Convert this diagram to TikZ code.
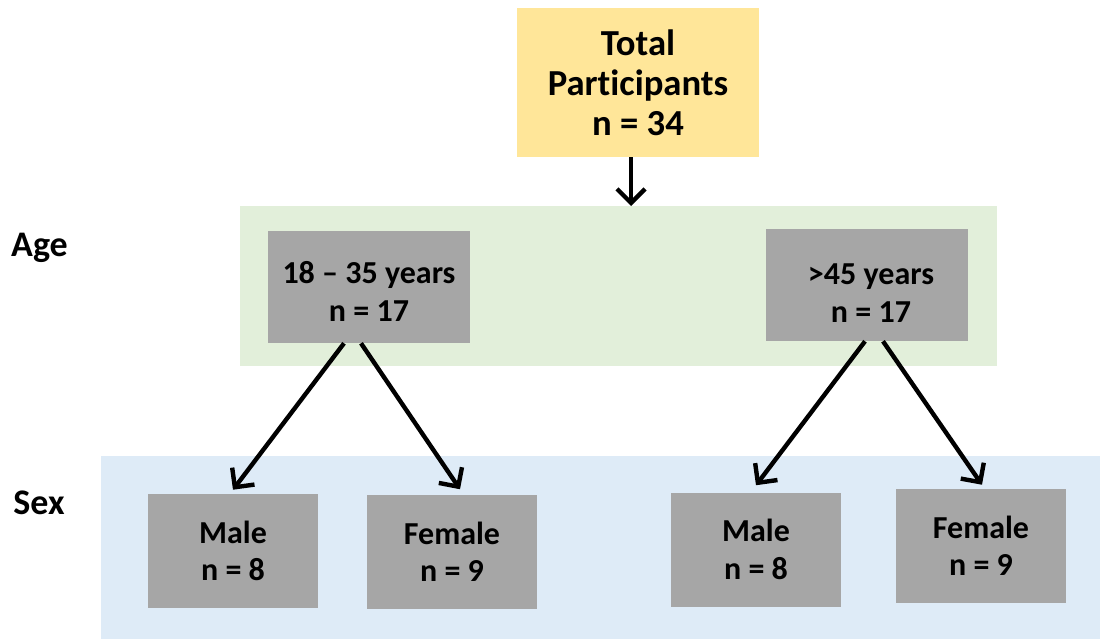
\documentclass[tikz,border=0pt]{standalone}
\usepackage{fontspec}
\setmainfont[Ligatures=NoCommon]{Carlito}
\usetikzlibrary{arrows.meta,calc}
\definecolor{totfill}{HTML}{FFE699}
\definecolor{ageband}{HTML}{E2EFDA}
\definecolor{sexband}{HTML}{DEEBF7}
\definecolor{boxgray}{HTML}{A6A6A6}
\tikzset{
  bigbox/.style={fill=totfill, draw=none, minimum width=181.5pt, minimum height=111.75pt,
    align=center, font=\fontsize{27.5}{30}\selectfont\bfseries, inner sep=0pt},
  agebox/.style={fill=boxgray, draw=none, minimum width=151.5pt, minimum height=84pt,
    inner sep=0pt},
  agetext/.style={align=center, font=\fontsize{24}{28.5}\selectfont\bfseries, inner sep=0pt},
  sexbox/.style={fill=boxgray, draw=none, minimum width=127.5pt, minimum height=85.5pt,
    align=center, font=\fontsize{24}{28}\selectfont\bfseries, inner sep=0pt},
  rowlabel/.style={font=\fontsize{27}{30}\selectfont\bfseries, inner sep=0pt},
  flow/.style={line width=3.3pt, -{Straight Barb[length=10.5pt,width=21pt,line width=3.3pt]}},
}
\begin{document}
\begin{tikzpicture}[x=0.75pt,y=-0.75pt]
  \useasboundingbox (0,0) rectangle (1100,639);
  % category bands
  \fill[ageband] (240,206) rectangle (997,366);
  \fill[sexband] (101,456) rectangle (1100,639);
  % row labels
  \node[rowlabel] (agelbl) at (39.5,248) {Age};
  \node[rowlabel] (sexlbl) at (39,503) {Sex};
  % boxes
  \node[bigbox] (tot) at (638,82.5) {Total\\Participants\\n = 34};
  \node[agebox] (ya) at (369,287) {};
  \node[agebox] (oa) at (867,285) {};
  \node[agetext] (yatext) at (369,291) {18 -- 35 years\\n = 17};
  \node[agetext] (oatext) at (871,293) {>45 years\\n = 17};
  \node[sexbox] (ym) at (233,551) {Male\\n = 8};
  \node[sexbox] (yf) at (452,551.5) {Female\\n = 9};
  \node[sexbox] (om) at (756,549.5) {Male\\n = 8};
  \node[sexbox] (of) at (981,546) {Female\\n = 9};
  % connectors
  \coordinate (band) at (631,206);
  \draw[flow] ([xshift=-5.25pt]tot.south) -- (band);
  \draw[flow] ([xshift=-18.75pt]ya.south) -- ([yshift=3pt]ym.north);
  \draw[flow] ([xshift=-6pt]ya.south) -- ([xshift=6pt,yshift=3.75pt]yf.north);
  \draw[flow] ([xshift=-1.5pt]oa.south) -- ([yshift=5.25pt]om.north);
  \draw[flow] ([xshift=12pt]oa.south) -- ([xshift=0.75pt,yshift=3pt]of.north);
\end{tikzpicture}
\end{document}
